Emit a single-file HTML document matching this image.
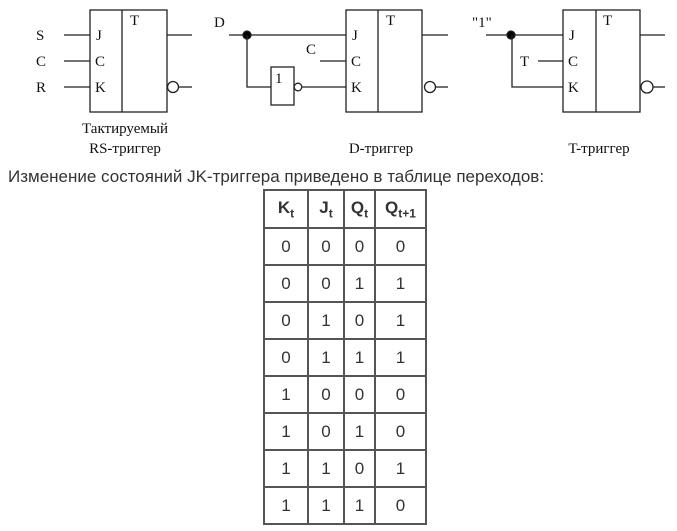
<!DOCTYPE html>
<html><head><meta charset="utf-8"><style>
body{margin:0;background:#fff;width:677px;height:531px;overflow:hidden;position:relative}
svg{position:absolute;left:0;top:0}
.t{position:absolute;left:8px;top:167px;font:17px "Liberation Sans",sans-serif;color:#333;white-space:nowrap}
table{position:absolute;left:263px;top:189px;border-collapse:collapse;font:bold 16px "Liberation Sans",sans-serif;color:#333}
td{border:2px solid #555;height:35px;text-align:center;padding:0;font-weight:normal;font-size:17px}
tr:first-child td{font-weight:bold;height:36px}
sub{font-size:12px}
</style></head><body>
<svg width="677" height="531" font-family="Liberation Serif,serif" font-size="15" fill="none" stroke="#222" stroke-width="1.3">
<rect x="90" y="10" width="77" height="102"/><line x1="122" y1="10" x2="122" y2="112"/>
<line x1="64" y1="35" x2="90" y2="35"/><line x1="64" y1="61" x2="90" y2="61"/><line x1="64" y1="87" x2="90" y2="87"/>
<line x1="167" y1="35" x2="192" y2="35"/><circle cx="173" cy="87" r="5.5"/><line x1="179" y1="87" x2="192" y2="87"/>
<rect x="346" y="10" width="76" height="102"/><line x1="378" y1="10" x2="378" y2="112"/>
<line x1="229" y1="35" x2="346" y2="35"/><circle cx="247" cy="35" r="4" fill="#000"/>
<polyline points="247,35 247,87 271,87"/><rect x="271" y="67" width="23" height="38"/>
<circle cx="298" cy="87" r="3.8"/><line x1="302" y1="87" x2="346" y2="87"/>
<line x1="320" y1="61" x2="346" y2="61"/>
<line x1="422" y1="35" x2="448" y2="35"/><circle cx="430" cy="87" r="5.5"/><line x1="436" y1="87" x2="448" y2="87"/>
<rect x="563" y="10" width="77" height="102"/><line x1="596" y1="10" x2="596" y2="112"/>
<line x1="486" y1="35" x2="563" y2="35"/><circle cx="511" cy="35" r="4" fill="#000"/>
<polyline points="512,35 512,87 563,87"/><line x1="538" y1="61" x2="563" y2="61"/>
<line x1="640" y1="35" x2="665" y2="35"/><circle cx="647" cy="87" r="6"/><line x1="653" y1="87" x2="665" y2="87"/>
<g fill="#111" stroke="none">
<text x="36" y="40">S</text><text x="36" y="66">C</text><text x="36" y="92">R</text>
<text x="96" y="40">J</text><text x="95" y="66">C</text><text x="95" y="92">K</text><text x="130" y="25">T</text>
<text x="125" y="133" text-anchor="middle">Тактируемый</text><text x="125" y="153" text-anchor="middle">RS-триггер</text>
<text x="214" y="27">D</text><text x="306" y="54">C</text><text x="275" y="83">1</text>
<text x="352" y="40">J</text><text x="351" y="66">C</text><text x="351" y="92">K</text><text x="386" y="25">T</text>
<text x="381" y="153" text-anchor="middle">D-триггер</text>
<text x="472" y="27">"1"</text><text x="520" y="66">T</text>
<text x="569" y="40">J</text><text x="568" y="66">C</text><text x="568" y="92">K</text><text x="603" y="25">T</text>
<text x="599" y="153" text-anchor="middle">T-триггер</text>
</g>
</svg>
<div class="t">Изменение состояний JK-триггера приведено в таблице переходов:</div>
<table>
<colgroup><col style="width:44px"><col style="width:36px"><col style="width:31px"><col style="width:51px"></colgroup>
<tr><td>K<sub>t</sub></td><td>J<sub>t</sub></td><td>Q<sub>t</sub></td><td>Q<sub>t+1</sub></td></tr>
<tr><td>0</td><td>0</td><td>0</td><td>0</td></tr>
<tr><td>0</td><td>0</td><td>1</td><td>1</td></tr>
<tr><td>0</td><td>1</td><td>0</td><td>1</td></tr>
<tr><td>0</td><td>1</td><td>1</td><td>1</td></tr>
<tr><td>1</td><td>0</td><td>0</td><td>0</td></tr>
<tr><td>1</td><td>0</td><td>1</td><td>0</td></tr>
<tr><td>1</td><td>1</td><td>0</td><td>1</td></tr>
<tr><td>1</td><td>1</td><td>1</td><td>0</td></tr>
</table>
</body></html>
